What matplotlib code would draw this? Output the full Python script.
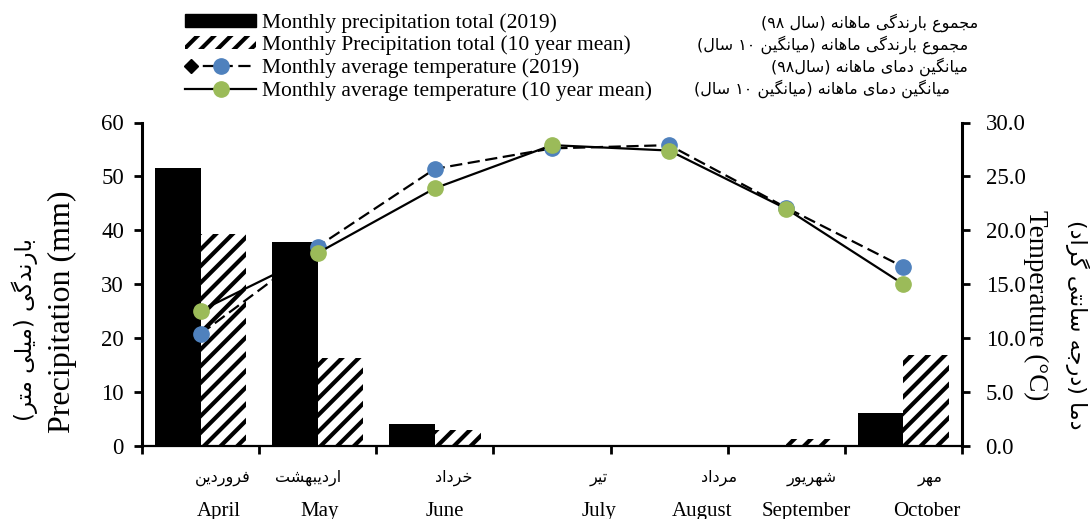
import matplotlib
matplotlib.use("Agg")
import matplotlib.pyplot as plt
import numpy as np
from matplotlib.lines import Line2D
from matplotlib.patches import Patch
from matplotlib.legend_handler import HandlerLine2D

# ---------------- data ----------------
months_en = ['April', 'May', 'June', 'July', 'August', 'September', 'October']
months_fa = ['فروردین', 'اردیبهشت', 'خرداد', 'تیر', 'مرداد', 'شهریور', 'مهر']
precip_2019 = [51.5, 37.8, 4.1, 0.0, 0.0, 0.0, 6.2]
precip_10yr = [39.3, 16.3, 3.0, 0.0, 0.0, 1.3, 16.9]
temp_2019 = [10.4, 18.5, 25.7, 27.6, 27.9, 22.1, 16.6]
temp_10yr = [12.55, 17.9, 23.9, 27.9, 27.4, 22.0, 15.0]

legend_en = ['Monthly precipitation total (2019)',
             'Monthly Precipitation total (10 year mean)',
             'Monthly average temperature (2019)',
             'Monthly average temperature (10 year mean)']
legend_fa = ['مجموع بارندگی ماهانه (سال \u06F9\u06F8)',
             'مجموع بارندگی ماهانه (میانگین \u06F1\u06F0 سال)',
             'میانگین دمای ماهانه (سال\u06F9\u06F8)',
             'میانگین دمای ماهانه (میانگین \u06F1\u06F0 سال)']
ylabel_en = 'Precipitation (mm)'
ylabel_fa = 'بارندگی (میلی متر)'
y2label_en = 'Temperature (°C)'
y2label_fa = 'دما (درجه سانتی گراد)'

# ---------------- simple Persian shaping ----------------
FORMS = {
    '\u0627': ('\uFE8D', '\uFE8E'),
    '\u0622': ('\uFE81', '\uFE82'),
    '\u0628': ('\uFE8F', '\uFE90', '\uFE91', '\uFE92'),
    '\u067E': ('\uFB56', '\uFB57', '\uFB58', '\uFB59'),
    '\u062A': ('\uFE95', '\uFE96', '\uFE97', '\uFE98'),
    '\u062B': ('\uFE99', '\uFE9A', '\uFE9B', '\uFE9C'),
    '\u062C': ('\uFE9D', '\uFE9E', '\uFE9F', '\uFEA0'),
    '\u0686': ('\uFB7A', '\uFB7B', '\uFB7C', '\uFB7D'),
    '\u062D': ('\uFEA1', '\uFEA2', '\uFEA3', '\uFEA4'),
    '\u062E': ('\uFEA5', '\uFEA6', '\uFEA7', '\uFEA8'),
    '\u062F': ('\uFEA9', '\uFEAA'),
    '\u0630': ('\uFEAB', '\uFEAC'),
    '\u0631': ('\uFEAD', '\uFEAE'),
    '\u0632': ('\uFEAF', '\uFEB0'),
    '\u0698': ('\uFB8A', '\uFB8B'),
    '\u0633': ('\uFEB1', '\uFEB2', '\uFEB3', '\uFEB4'),
    '\u0634': ('\uFEB5', '\uFEB6', '\uFEB7', '\uFEB8'),
    '\u0635': ('\uFEB9', '\uFEBA', '\uFEBB', '\uFEBC'),
    '\u0636': ('\uFEBD', '\uFEBE', '\uFEBF', '\uFEC0'),
    '\u0637': ('\uFEC1', '\uFEC2', '\uFEC3', '\uFEC4'),
    '\u0638': ('\uFEC5', '\uFEC6', '\uFEC7', '\uFEC8'),
    '\u0639': ('\uFEC9', '\uFECA', '\uFECB', '\uFECC'),
    '\u063A': ('\uFECD', '\uFECE', '\uFECF', '\uFED0'),
    '\u0641': ('\uFED1', '\uFED2', '\uFED3', '\uFED4'),
    '\u0642': ('\uFED5', '\uFED6', '\uFED7', '\uFED8'),
    '\u06A9': ('\uFB8E', '\uFB8F', '\uFB90', '\uFB91'),
    '\u06AF': ('\uFB92', '\uFB93', '\uFB94', '\uFB95'),
    '\u0644': ('\uFEDD', '\uFEDE', '\uFEDF', '\uFEE0'),
    '\u0645': ('\uFEE1', '\uFEE2', '\uFEE3', '\uFEE4'),
    '\u0646': ('\uFEE5', '\uFEE6', '\uFEE7', '\uFEE8'),
    '\u0647': ('\uFEE9', '\uFEEA', '\uFEEB', '\uFEEC'),
    '\u0648': ('\uFEED', '\uFEEE'),
    '\u06CC': ('\uFBFC', '\uFBFD', '\uFBFE', '\uFBFF'),
}
MIRROR = {'(': ')', ')': '('}


def fa(s):
    s = s.replace('\u064A', '\u06CC').replace('\u0643', '\u06A9')
    chars = list(s)
    n = len(chars)
    shaped = []
    for i, c in enumerate(chars):
        if c not in FORMS:
            shaped.append(c)
            continue
        f = FORMS[c]
        prev = chars[i - 1] if i > 0 else None
        nxt = chars[i + 1] if i < n - 1 else None
        cp = prev is not None and prev in FORMS and len(FORMS[prev]) == 4
        cn = nxt is not None and nxt in FORMS and len(f) == 4
        if cp and cn:
            g = f[3]
        elif cp:
            g = f[1]
        elif cn:
            g = f[2]
        else:
            g = f[0]
        shaped.append(g)
    vis = shaped[::-1]
    out = []
    i = 0
    while i < len(vis):
        if vis[i].isdigit():
            j = i
            while j < len(vis) and vis[j].isdigit():
                j += 1
            out.extend(vis[i:j][::-1])
            i = j
        else:
            out.append(MIRROR.get(vis[i], vis[i]))
            i += 1
    return ''.join(out)


# ---------------- style ----------------
plt.rcParams['font.family'] = ['Liberation Serif', 'DejaVu Sans']
plt.rcParams['hatch.linewidth'] = 3.0
SERIF = 'Liberation Serif'
FAF = 'DejaVu Sans'
BLUE = '#4F81BD'
GREEN = '#9BBB59'

W, H = 1090, 519
fig = plt.figure(figsize=(W / 100, H / 100), dpi=100)
L, R, T, B = 142, 962, 122.5, 446
ax = fig.add_axes([L / W, 1 - B / H, (R - L) / W, (B - T) / H])

x = np.arange(len(months_en))
ax.bar(x - 0.195, precip_2019, width=0.39, color='black', zorder=2)
ax.bar(x + 0.195, precip_10yr, width=0.39, facecolor='white', edgecolor='black',
       hatch='//', linewidth=0, zorder=2)
ax.set_xlim(-0.5, 6.5)
ax.set_ylim(0, 60)
ax.set_yticks(range(0, 61, 10))
ax.set_xticks(np.arange(-0.5, 7, 1))
ax.set_xticklabels([])
ax.tick_params(axis='x', direction='out', length=6, width=2)
ax.tick_params(axis='y', direction='out', length=6, width=2, labelsize=16.5, pad=7)
for lab in ax.get_yticklabels():
    lab.set_family(SERIF)
ax.spines['top'].set_visible(False)
ax.spines['right'].set_visible(False)
ax.spines['left'].set_linewidth(2.2)
ax.spines['bottom'].set_linewidth(1.6)

ax2 = ax.twinx()
l1, = ax2.plot(x, temp_2019, color='black', ls=(0, (5.5, 2.5)), lw=1.6,
               marker='o', mfc=BLUE, mec=BLUE, ms=11, zorder=3)
l2, = ax2.plot(x, temp_10yr, color='black', ls='-', lw=1.6,
               marker='o', mfc=GREEN, mec=GREEN, ms=11, zorder=4)
ax2.set_ylim(0, 30)
ax2.set_yticks(np.arange(0, 31, 5))
ax2.set_yticklabels([f'{v:.1f}' for v in np.arange(0, 31, 5)])
ax2.tick_params(axis='y', direction='out', length=6, width=2, labelsize=16.5, pad=11)
for sp in ['top', 'left', 'bottom']:
    ax2.spines[sp].set_visible(False)
ax2.spines['right'].set_linewidth(2.2)

# month labels
en_off = [0.159, 0.015, 0.084, 0.402, 0.283, 0.173, 0.200]
fa_off = [0.189, -0.080, 0.161, 0.402, 0.429, 0.216, 0.226]
for i in range(len(months_en)):
    ax.text(x[i] + en_off[i], -12.1, months_en[i], ha='center', va='center',
            fontsize=15, family=SERIF, clip_on=False)
    ax.text(x[i] + fa_off[i], -6.0, fa(months_fa[i]), ha='center', va='center',
            fontsize=11.5, family=FAF, clip_on=False)

# axis labels
fig.text(62 / W, 1 - 312 / H, ylabel_en, rotation=90, ha='center', va='center',
         fontsize=23, family=SERIF)
fig.text(25 / W, 1 - 330 / H, fa(ylabel_fa), rotation=90, ha='center', va='center',
         fontsize=16.5, family=FAF)
fig.text(1036 / W, 1 - 305 / H, y2label_en, rotation=270, ha='center', va='center',
         fontsize=19.5, family=SERIF)
fig.text(1077 / W, 1 - 325 / H, fa(y2label_fa), rotation=270, ha='center', va='center',
         fontsize=16, family=FAF)


# legend
class DiamondLineHandler(HandlerLine2D):
    def create_artists(self, legend, orig_handle, xdescent, ydescent,
                       width, height, fontsize, trans):
        arts = super().create_artists(legend, orig_handle, xdescent, ydescent,
                                      width, height, fontsize, trans)
        d = Line2D([-xdescent + 4], [(height - ydescent) / 2], marker='D',
                   color='black', ms=7, ls='none')
        d.set_transform(trans)
        return list(arts) + [d]


h1 = Patch(facecolor='black', edgecolor='black')
h2 = Patch(facecolor='white', edgecolor='black', hatch='//', linewidth=0)
leg = fig.legend([h1, h2, l1, l2], legend_en, loc='upper left',
                 bbox_to_anchor=(185 / W, 1 - 13 / H), frameon=False,
                 prop={'family': SERIF, 'size': 15.5}, handlelength=3.3,
                 handleheight=0.55, handletextpad=0.3, labelspacing=0.14,
                 borderaxespad=0, borderpad=0, numpoints=1,
                 handler_map={l1: DiamondLineHandler()})

fa_pos = [(978, 23), (968, 45), (968, 67), (950, 89)]
for (px, py), s in zip(fa_pos, legend_fa):
    fig.text(px / W, 1 - py / H, fa(s), ha='right', va='center', fontsize=11.5, family=FAF)

fig.savefig('out.png', dpi=100)
